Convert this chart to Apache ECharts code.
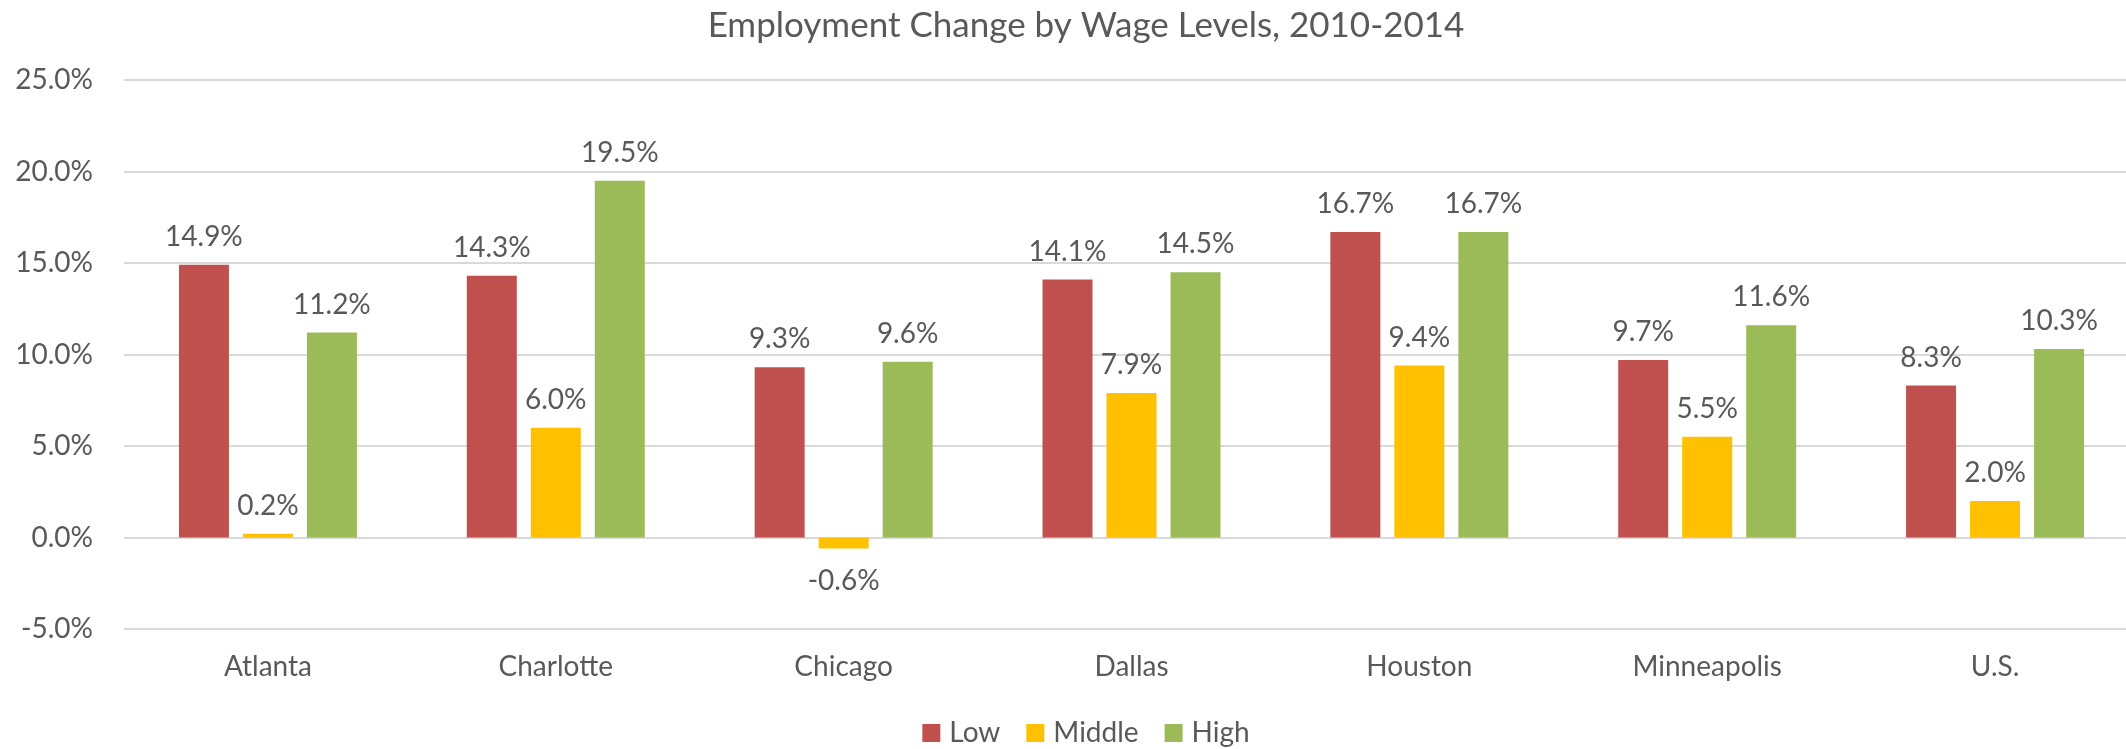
<!DOCTYPE html>
<html>
	<head>
		<meta charset="utf-8" />
		<title>Employment Change by Wage Levels</title>
		<script type="text/javascript" src="https://cdn.jsdelivr.net/npm/echarts@6/dist/echarts.min.js"></script>
		<style>
			html, body {
				margin: 0;
				padding: 0;
				width: 2126px;
				height: 749px;
				overflow: hidden;
				background: #fff;
			}
		</style>
	</head>
	<body>
		<!-- the original chart is a bit wider than the picture, its right edge is cut off -->
		<div id="container" style="width: 2172px; height: 749px;"></div>

		<script>
			var cities = ['Atlanta', 'Charlotte', 'Chicago', 'Dallas', 'Houston', 'Minneapolis', 'U.S.'];
			var low = [14.9, 14.3, 9.3, 14.1, 16.7, 9.7, 8.3];
			var middle = [0.2, 6.0, -0.6, 7.9, 9.4, 5.5, 2.0];
			var high = [11.2, 19.5, 9.6, 14.5, 16.7, 11.6, 10.3];

			var textColor = '#595959';
			var font = 'Lato';

			// negative bars get their label underneath
			function withLabels(values) {
				return values.map(function(v) {
					if (v < 0) {
						return { value: v, label: { position: 'bottom', distance: 18 } };
					}
					return v;
				});
			}

			function barSeries(name, values, color) {
				return {
					name: name,
					type: 'bar',
					barWidth: 50,
					barGap: '28%',
					data: withLabels(values),
					itemStyle: { color: color },
					label: {
						show: true,
						position: 'top',
						distance: 14,
						color: textColor,
						fontFamily: font,
						fontSize: 28,
						formatter: function(p) {
							return p.value.toFixed(1) + '%';
						}
					}
				};
			}

			var myChart = echarts.init(document.getElementById('container'));
			var option = {
				animation: false,
				title: {
					text: 'Employment Change by Wage Levels, 2010-2014',
					left: 'center',
					top: 3,
					textStyle: {
						color: textColor,
						fontFamily: font,
						fontSize: 35,
						fontWeight: 'normal'
					}
				},
				legend: {
					data: ['Low', 'Middle', 'High'],
					left: 'center',
					top: 714,
					icon: 'rect',
					itemWidth: 18,
					itemHeight: 18,
					itemGap: 26,
					textStyle: {
						color: textColor,
						fontFamily: font,
						fontSize: 28,
						padding: [0, 0, 0, 4]
					}
				},
				grid: {
					left: 124,
					right: 33,
					top: 80,
					bottom: 120
				},
				xAxis: {
					type: 'category',
					data: cities,
					position: 'bottom',
					axisLine: { show: false, onZero: false },
					axisTick: { show: false },
					axisLabel: {
						color: textColor,
						fontFamily: font,
						fontSize: 28,
						margin: 24
					}
				},
				yAxis: {
					type: 'value',
					min: -5,
					max: 25,
					interval: 5,
					axisLine: { show: false },
					axisTick: { show: false },
					splitLine: { lineStyle: { color: '#D9D9D9', width: 2 } },
					axisLabel: {
						color: textColor,
						fontFamily: font,
						fontSize: 28,
						margin: 31,
						formatter: function(v) {
							return v.toFixed(1) + '%';
						}
					}
				},
				series: [
					barSeries('Low', low, '#C0504D'),
					barSeries('Middle', middle, '#FFC000'),
					barSeries('High', high, '#9BBB59')
				]
			};
			myChart.setOption(option);
		</script>
	</body>
</html>
